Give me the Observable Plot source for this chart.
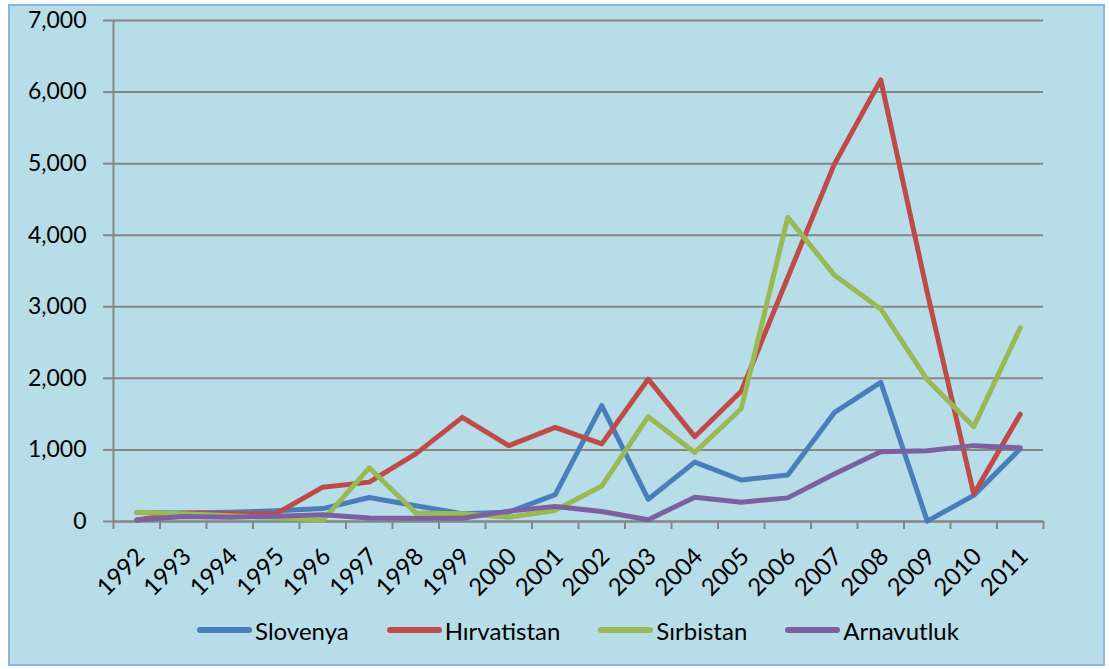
<!DOCTYPE html>
<html>
<head>
<meta charset="utf-8">
<script src="https://cdn.jsdelivr.net/npm/d3@7"></script>
<script src="https://cdn.jsdelivr.net/npm/@observablehq/plot@0.6"></script>
<style>
  body { margin: 0; background: #ffffff; width: 1109px; height: 669px; overflow: hidden; position: relative; font-family: Lato, "DejaVu Sans", sans-serif; }
  #frame { position: absolute; left: 8px; top: 4px; width: 1097px; height: 662px; box-sizing: border-box; background: #B7DDE8; border: 2px solid #8EB4E3; }
  #chart { position: absolute; left: 0; top: 0; }
  #legend { position: absolute; left: 113px; top: 610px; width: 930px; height: 40px; display: flex; justify-content: center; align-items: center; gap: 38px; font-size: 24px; color: #000; }
  .item { display: flex; align-items: center; }
  .sw { width: 55px; height: 6px; border-radius: 3px; margin-right: 3px; }
</style>
</head>
<body>
<div id="frame"></div>
<div id="chart"></div>
<div id="legend"></div>
<script>
const years = [1992,1993,1994,1995,1996,1997,1998,1999,2000,2001,2002,2003,2004,2005,2006,2007,2008,2009,2010,2011];
const seriesNames = ["Slovenya", "Hırvatistan", "Sırbistan", "Arnavutluk"];
const seriesColors = ["#4A7EBB", "#BE4B48", "#98B954", "#7D60A0"];
const slovenya    = [125, 120, 130, 150, 180, 335, 220, 110, 130, 375, 1620, 310, 830, 580, 650, 1520, 1945, 5, 365, 1015];
const hirvatistan = [20, 120, 110, 110, 480, 550, 945, 1455, 1060, 1315, 1085, 1990, 1185, 1820, 3410, 4990, 6170, 3200, 385, 1500];
const sirbistan   = [130, 110, 80, 55, 15, 750, 120, 110, 60, 155, 495, 1465, 965, 1575, 4250, 3445, 2970, 1980, 1325, 2705];
const arnavutluk  = [20, 70, 60, 75, 95, 50, 45, 45, 145, 210, 140, 25, 340, 270, 330, 665, 975, 990, 1060, 1030];
const yTicks = [0, 1000, 2000, 3000, 4000, 5000, 6000, 7000];

const seriesValues = [slovenya, hirvatistan, sirbistan, arnavutluk];
const data = [];
seriesNames.forEach((name, i) => {
  years.forEach((yr, j) => data.push({series: name, year: yr, value: seriesValues[i][j]}));
});
const bounds = years.map(y => y - 0.5).concat([years[years.length - 1] + 0.5]);
const gray = "#868686";

const chart = Plot.plot({
  width: 1109,
  height: 610,
  marginLeft: 113,
  marginRight: 66,
  marginTop: 20,
  marginBottom: 89,
  style: {background: "transparent", fontFamily: "Lato, 'DejaVu Sans', sans-serif", color: "#000", overflow: "visible"},
  x: {domain: [bounds[0], bounds[bounds.length - 1]]},
  y: {domain: [0, 7000]},
  color: {domain: seriesNames, range: seriesColors},
  marks: [
    Plot.gridY(yTicks, {stroke: gray, strokeOpacity: 1, strokeWidth: 2}),
    Plot.ruleX([bounds[0]], {y1: 0, y2: 7000, stroke: gray, strokeWidth: 2}),
    Plot.ruleY([0], {stroke: gray, strokeWidth: 2}),
    Plot.axisY({ticks: yTicks, tickSize: 10, tickPadding: 17, tickFormat: d3.format(","), fontSize: 23, stroke: gray, strokeWidth: 2, label: null}),
    Plot.axisX({ticks: bounds, tickSize: 8, tickFormat: () => "", stroke: gray, strokeWidth: 2, label: null}),
    Plot.text(years, {x: d => d, y: 0, text: d => String(d), rotate: -45, textAnchor: "end", lineAnchor: "middle", dx: 4, dy: 31, fontSize: 24, fill: "#000"}),
    Plot.line(data, {x: "year", y: "value", z: "series", stroke: "series", strokeWidth: 5, strokeLinejoin: "round", strokeLinecap: "round"})
  ]
});
document.getElementById("chart").appendChild(chart);

const legend = document.getElementById("legend");
seriesNames.forEach((name, i) => {
  const item = document.createElement("div");
  item.className = "item";
  const sw = document.createElement("div");
  sw.className = "sw";
  sw.style.background = seriesColors[i];
  const lab = document.createElement("span");
  lab.textContent = name;
  item.appendChild(sw);
  item.appendChild(lab);
  legend.appendChild(item);
});
</script>
</body>
</html>
